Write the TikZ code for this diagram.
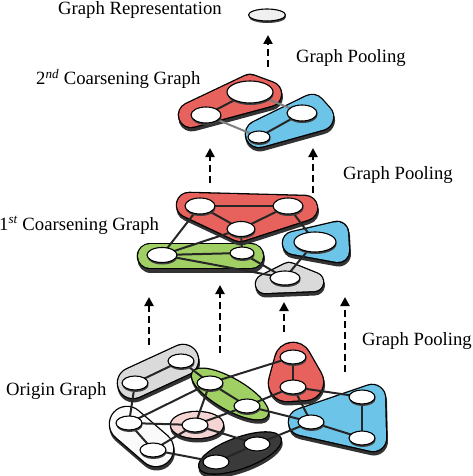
\documentclass[tikz,border=0pt]{standalone}
\usepackage{fontspec}
\setmainfont{Liberation Serif}
\usetikzlibrary{shapes.geometric,shadows,arrows.meta}
\pgfdeclarelayer{blobs}
\pgfdeclarelayer{links}
\pgfsetlayers{blobs,links,main}
\definecolor{cred}{RGB}{231,98,92}
\definecolor{cblue}{RGB}{108,196,232}
\definecolor{cgreen}{RGB}{160,208,100}
\definecolor{cgray}{RGB}{218,218,218}
\definecolor{cpink}{RGB}{245,212,212}
\definecolor{cblack}{RGB}{58,58,58}
\definecolor{cwhite}{RGB}{250,250,250}
% rounded blob = core path widened by radius #3
\newcommand\myblob[4][]{%
  \filldraw[black!80, line width={2*#3+2.6}, line join=round, line cap=round, xshift=0.7pt, yshift=-3.2pt, #1] #4;
  \filldraw[black, line width={2*#3+2.6}, line join=round, line cap=round, #1] #4;
  \filldraw[#2, line width={2*#3}, line join=round, line cap=round, #1] #4;
}
\begin{document}
\begin{tikzpicture}[x=1pt,y=-1pt,
  vert/.style={ellipse, draw=black, line width=1.1pt, fill=white, inner sep=0pt, minimum width=26pt, minimum height=14pt, drop shadow={shadow xshift=0.5pt, shadow yshift=-2pt, fill=black!75, opacity=1}},
  link/.style={draw=black!85, line width=2pt},
  glink/.style={draw=black!50, line width=2pt},
  uparrow/.style={line width=2.4pt, dash pattern=on 7pt off 4pt, -{Triangle[length=9pt, width=9pt]}},
  lbl/.style={inner sep=0pt, anchor=base west, font=\fontsize{18.7}{22}\selectfont}
]
\useasboundingbox (0,0) rectangle (472,476);

% ---------- labels ----------
\node[lbl] (trep) at (58,15) {Graph Representation};
\node[lbl] (tp1) at (296,63) {Graph Pooling};
\node[lbl] (tc2) at (36,85) {2\textsuperscript{\itshape nd} Coarsening Graph};
\node[lbl] (tp2) at (343,179) {Graph Pooling};
\node[lbl] (tc1) at (-1,230) {1\textsuperscript{\itshape st} Coarsening Graph};
\node[lbl] (tp3) at (362,345) {Graph Pooling};
\node[lbl] (tog) at (6,395) {Origin Graph};

% ---------- top disk ----------
\node[vert, fill=black!6, minimum width=37pt, minimum height=12pt] (rep) at (267,15) {};

% ---------- blobs ----------
\begin{pgfonlayer}{blobs}
% level 2
\myblob{cred}{12}{(191,115) -- (250,87) -- (269,94) -- cycle}
\myblob{cblue}{13}{(259,134) -- (312,108) -- (320,117) -- cycle}
% level 1
\myblob{cgreen}{12}{(150,256) -- (251,256)}
\myblob{cred}{12}{(189,205) -- (305,208) -- (240,229) -- cycle}
\myblob{cgray}{9}{(289,272) -- (265,284) -- (314,282) -- cycle}
\myblob{cblue}{11}{(294,243) -- (337,233) -- (338,251) -- cycle}
% origin
\myblob{cwhite}{17}{(127,424) -- (156,449)}
\myblob{cgray}{15}{(133,383) -- (183,360)}
\myblob{cpink}{1}{(197,425) ellipse [x radius=25, y radius=12]}
\myblob[rotate around={-30:(230,394)}]{cgreen}{1}{(230,394) ellipse [x radius=42, y radius=14]}
\myblob[rotate around={20:(240,453)}]{cblack}{1}{(240,453) ellipse [x radius=42, y radius=14]}
\myblob{cred}{18}{(293,361) -- (287,383) -- (305,382) -- cycle}
\myblob{cblue}{13}{(302,422) -- (372,398) -- (373,438) -- cycle}
\end{pgfonlayer}

% ---------- level 2 nodes ----------
\node[vert, minimum width=30pt, minimum height=16pt] (r2a) at (206,115) {};
\node[vert, minimum width=46pt, minimum height=22pt] (r2b) at (250,92) {};
\node[vert, minimum width=30pt, minimum height=16pt] (b2a) at (302,113) {};
\node[vert, minimum width=22pt, minimum height=12pt] (b2b) at (259,137) {};

% ---------- level 1 nodes ----------
\node[vert, minimum width=30pt, minimum height=16pt] (A) at (200,206) {};
\node[vert, minimum width=30pt, minimum height=16pt] (B) at (288,206) {};
\node[vert, minimum width=28pt, minimum height=15pt] (C) at (241,229) {};
\node[vert, minimum width=30pt, minimum height=15pt] (D) at (162,255) {};
\node[vert, minimum width=24pt, minimum height=12pt] (E) at (242,253) {};
\node[vert, minimum width=42pt, minimum height=20pt] (F) at (315,242) {};
\node[vert, minimum width=30pt, minimum height=14pt] (G) at (285,278) {};

% ---------- origin nodes ----------
\node[vert] (g1) at (181,361) {};
\node[vert] (g2) at (135,383) {};
\node[vert] (w1) at (129,423) {};
\node[vert] (w2) at (153,450) {};
\node[vert] (p1) at (195,425) {};
\node[vert] (gr1) at (210,383) {};
\node[vert] (gr2) at (247,406) {};
\node[vert] (r1) at (293,357) {};
\node[vert] (r2) at (293,387) {};
\node[vert] (b1) at (362,397) {};
\node[vert] (b2) at (311,422) {};
\node[vert] (b3) at (362,438) {};
\node[vert] (k1) at (257,444) {};
\node[vert] (k2) at (216,462) {};

% ---------- links ----------
\begin{pgfonlayer}{links}
\draw[link] (r2a.center) -- (r2b.center);
\draw[link] (b2a.center) -- (b2b.center);
\draw[glink] (r2a.center) -- (b2b.center);
\draw[glink] (r2b.center) -- (b2a.center);
\foreach \u/\v in {A/B, A/C, B/C, A/D, C/D, D/E, C/E, D/G, E/G, B/F, F/G}
  \draw[link] (\u.center) -- (\v.center);
\foreach \u/\v in {g1/g2, g2/w1, g1/gr1, w1/gr1, w1/p1, w1/w2, w2/p1, w2/k2, p1/gr1, p1/gr2, p1/k1, gr1/gr2, gr1/r1, gr2/r2, gr2/b2, r1/r2, r2/b2, r2/b1, b1/b3, b2/b3, b2/k1, k1/k2}
  \draw[link] (\u.center) -- (\v.center);
\end{pgfonlayer}

% ---------- pooling arrows ----------
\coordinate (s0) at (268,67);  \coordinate (e0) at (268,35);
\coordinate (s1) at (210,183); \coordinate (e1) at (210,148);
\coordinate (s2) at (313,193); \coordinate (e2) at (313,148);
\coordinate (s3) at (149,345); \coordinate (e3) at (149,297);
\coordinate (s4) at (220,353); \coordinate (e4) at (220,285);
\coordinate (s5) at (284,332); \coordinate (e5) at (284,302);
\coordinate (s6) at (345,372); \coordinate (e6) at (345,297);
\foreach \i in {0,...,6} \draw[uparrow] (s\i) -- (e\i);
\end{tikzpicture}
\end{document}
